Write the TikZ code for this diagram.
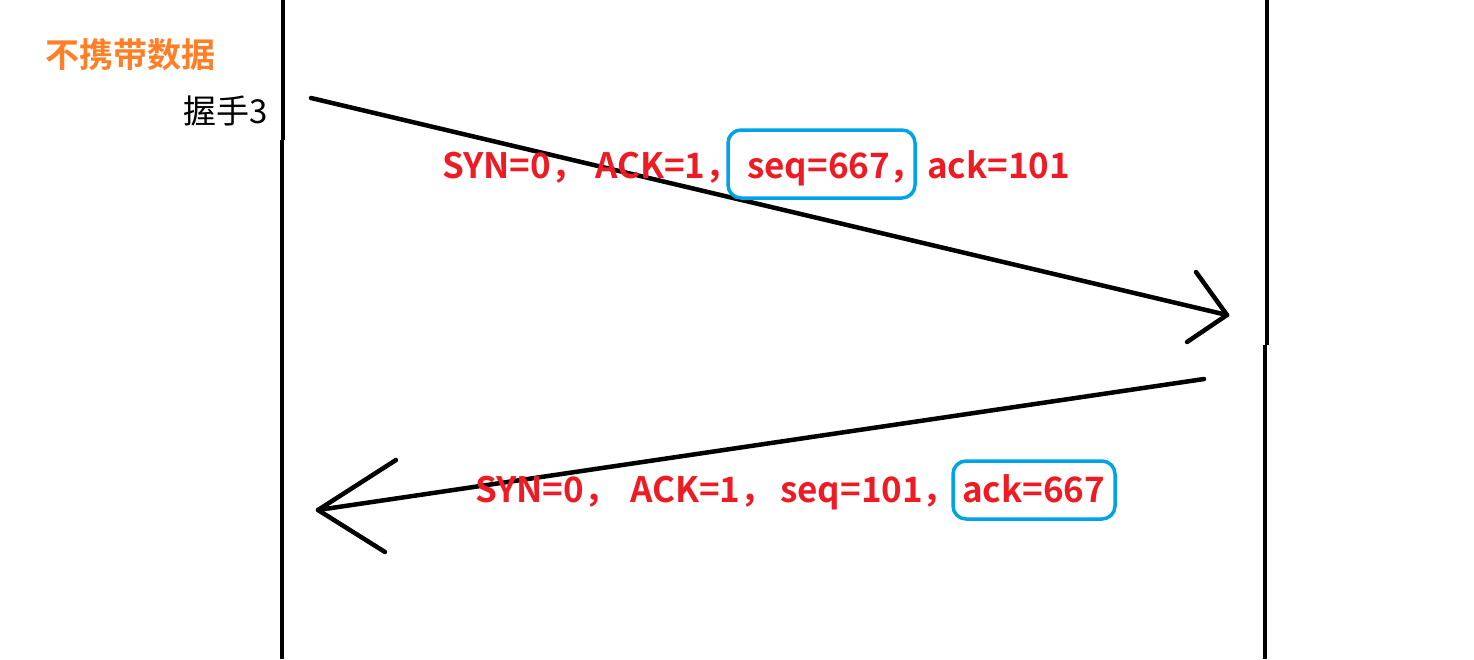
\documentclass[tikz,border=0pt]{standalone}
\usepackage{fontspec}
\setmainfont{Noto Sans CJK SC}[BoldFont={Noto Sans CJK SC Bold}]
\definecolor{msgred}{RGB}{237,28,36}
\definecolor{hiblue}{RGB}{0,162,232}
\definecolor{tagorange}{RGB}{255,127,39}
\newcommand{\seg}[2]{\makebox[#1pt][l]{#2}}
\begin{document}
\begin{tikzpicture}[x=1pt,y=-1pt,
  life/.style={line width=4.5pt},
  msg/.style={line width=4.5pt,line cap=round,line join=round},
  msgtext/.style={text=msgred,font=\fontsize{35}{40}\selectfont\bfseries,inner sep=0pt,anchor=base west},
  hibox/.style={draw=hiblue,line width=3.5pt,rounded corners=13pt},
]
\useasboundingbox (0,0) rectangle (1474,659);
% lifelines
\coordinate (lt) at (283,0);
\coordinate (lm) at (283,140);
\coordinate (lm2) at (282,140);
\coordinate (lb) at (282,659);
\coordinate (rt) at (1267,0);
\coordinate (rm) at (1267,345);
\coordinate (rm2) at (1265,345);
\coordinate (rb) at (1265,659);
\draw[life] (lt) -- (lm);
\draw[life] (lm2) -- (lb);
\draw[life] (rt) -- (rm);
\draw[life] (rm2) -- (rb);
% labels
\node[text=tagorange,font=\fontsize{34}{36}\selectfont\bfseries,inner sep=0pt,anchor=west] (tag) at (45,55) {不携带数据};
\node[font=\fontsize{33}{36}\selectfont,inner sep=0pt,anchor=east] (hs) at (268,111) {握手3};
% arrow 1
\coordinate (a1s) at (311,98);
\coordinate (a1e) at (1227,315);
\coordinate (a1u) at (1196,272);
\coordinate (a1d) at (1187,342);
\draw[msg] (a1s) -- (a1e);
\draw[msg] (a1u) -- (a1e) -- (a1d);
% arrow 2
\coordinate (a2s) at (1204,379);
\coordinate (a2e) at (318,510);
\coordinate (a2u) at (396,460);
\coordinate (a2d) at (385,552);
\draw[msg] (a2s) -- (a2e);
\draw[msg] (a2u) -- (a2e) -- (a2d);
% boxes
\draw[hibox] (728,130) rectangle (915,198);
\draw[hibox] (953,461) rectangle (1115,519);
% message texts
\node[msgtext] (m1) at (442,178) {\seg{153}{SYN=0，}\seg{152}{ACK=1，}\seg{180}{seq=667，}ack=101};
\node[msgtext] (m2) at (475,502) {\seg{155}{SYN=0，}\seg{150}{ACK=1，}\seg{182}{seq=101，}ack=667};
\end{tikzpicture}
\end{document}
